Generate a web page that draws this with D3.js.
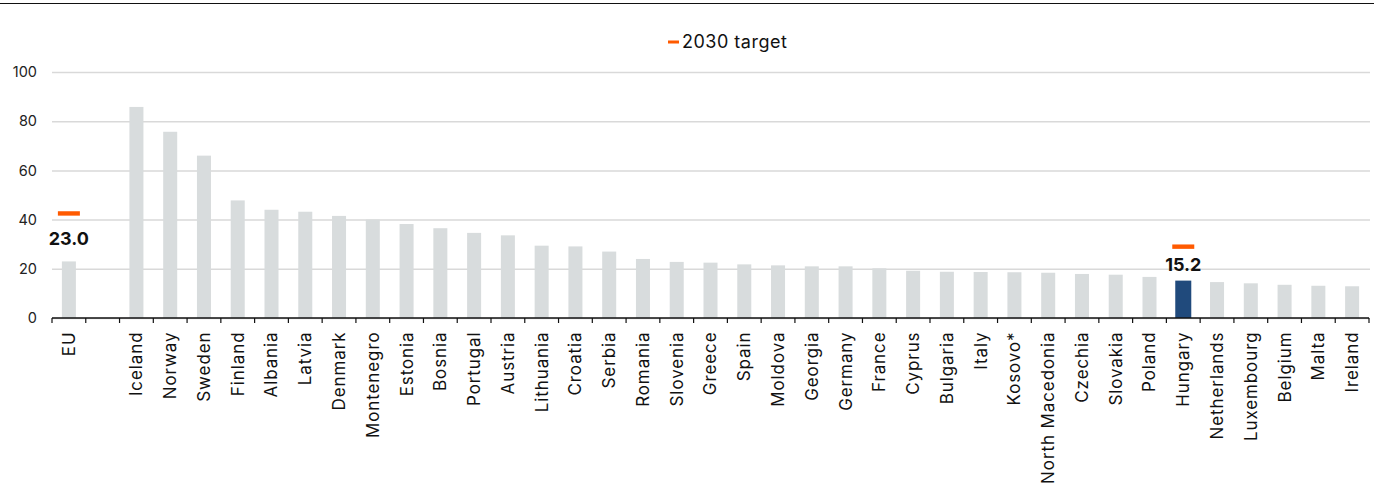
<!DOCTYPE html>
<html>
<head>
<meta charset="utf-8">
<script src="https://cdn.jsdelivr.net/npm/d3@7"></script>
<style>
  body { margin: 0; background: #fff; }
  svg text { font-family: Inter, "Liberation Sans", sans-serif; }
</style>
</head>
<body>
<svg width="1383" height="484"></svg>
<script>
// data (share of renewables, %)
const countries = ['EU', '', 'Iceland', 'Norway', 'Sweden', 'Finland', 'Albania', 'Latvia', 'Denmark',
  'Montenegro', 'Estonia', 'Bosnia', 'Portugal', 'Austria', 'Lithuania', 'Croatia', 'Serbia', 'Romania',
  'Slovenia', 'Greece', 'Spain', 'Moldova', 'Georgia', 'Germany', 'France', 'Cyprus', 'Bulgaria', 'Italy',
  'Kosovo*', 'North Macedonia', 'Czechia', 'Slovakia', 'Poland', 'Hungary', 'Netherlands', 'Luxembourg',
  'Belgium', 'Malta', 'Ireland'];
const shares = [23.0, null, 85.8, 75.7, 66.0, 47.8, 44.0, 43.2, 41.5,
  40.0, 38.2, 36.5, 34.6, 33.6, 29.4, 29.1, 27.0, 24.0,
  22.8, 22.5, 21.8, 21.4, 21.0, 21.0, 20.2, 19.2, 18.8, 18.7,
  18.6, 18.4, 17.9, 17.6, 16.7, 15.2, 14.6, 14.1,
  13.5, 13.1, 12.9];
const targets = [
  { name: 'EU', value: 42.5 },
  { name: 'Hungary', value: 29 }
];
const yTicks = [0, 20, 40, 60, 80, 100];
const highlight = 'Hungary';

const svg = d3.select('svg');

const data = countries.map((c, i) => ({ name: c, key: c === '' ? '_gap' : c, value: shares[i] }));

const x = d3.scaleBand()
    .domain(data.map(d => d.key))
    .range([52, 1369])
    .paddingInner(0.585)
    .paddingOuter(0.2925);

const y = d3.scaleLinear()
    .domain([0, 100])
    .range([318, 72]);

// top rule
svg.append('line')
    .attr('x1', 0).attr('x2', 1374)
    .attr('y1', 3.5).attr('y2', 3.5)
    .attr('stroke', '#111').attr('stroke-width', 1);

// grid + y labels
const yAxis = svg.append('g')
    .attr('transform', 'translate(52,0)')
    .call(d3.axisLeft(y).tickValues(yTicks).tickSize(-(1370 - 52)).tickPadding(15));
yAxis.select('.domain').remove();
yAxis.selectAll('.tick line').attr('stroke', '#d9d9d9').attr('stroke-width', 1.5);
yAxis.selectAll('.tick text')
    .attr('fill', '#222')
    .style('font-size', '14.5px');

// bars
svg.append('g').selectAll('rect')
    .data(data.filter(d => d.value != null))
    .enter().append('rect')
    .attr('x', d => x(d.key) - (d.name === highlight ? 1 : 0))
    .attr('width', d => x.bandwidth() + (d.name === highlight ? 2 : 0))
    .attr('y', d => y(d.value))
    .attr('height', d => y(0) - y(d.value))
    .attr('fill', d => d.name === highlight ? '#204a7c' : '#d8dcdd');

// x axis baseline + boundary ticks
const gap = x.step() - x.bandwidth();
const bounds = data.map(d => x(d.key) - gap / 2).concat([x(data[data.length - 1].key) + x.bandwidth() + gap / 2]);
const xAxis = svg.append('g');
xAxis.append('line')
    .attr('x1', x.range()[0]).attr('x2', x.range()[1])
    .attr('y1', y(0)).attr('y2', y(0))
    .attr('stroke', '#111').attr('stroke-width', 1.5);
xAxis.selectAll('line.tk')
    .data(bounds)
    .enter().append('line')
    .attr('class', 'tk')
    .attr('x1', d => d).attr('x2', d => d)
    .attr('y1', y(0)).attr('y2', y(0) + 5)
    .attr('stroke', '#111').attr('stroke-width', 1.2);
xAxis.selectAll('text')
    .data(data.filter(d => d.name !== ''))
    .enter().append('text')
    .attr('transform', d => `translate(${x(d.key) + x.bandwidth() / 2},331.5)rotate(-90)`)
    .attr('text-anchor', 'end')
    .attr('dy', '0.35em')
    .attr('fill', '#111')
    .style('font-size', '17px')
    .style('letter-spacing', '0.9px')
    .text(d => d.name);

// 2030 targets
svg.append('g').selectAll('rect')
    .data(targets)
    .enter().append('rect')
    .attr('x', d => x(d.name) + x.bandwidth() / 2 - 11)
    .attr('width', 22)
    .attr('y', d => y(d.value) - 2.2)
    .attr('height', 4.4)
    .attr('fill', '#ff5a00');

// value labels
const labelOffset = { 'EU': 16, 'Hungary': 10 };
svg.append('g').selectAll('text')
    .data(data.filter(d => labelOffset[d.name] != null))
    .enter().append('text')
    .attr('x', d => x(d.key) + x.bandwidth() / 2)
    .attr('y', d => y(d.value) - labelOffset[d.name])
    .attr('text-anchor', 'middle')
    .attr('fill', '#111')
    .style('font-size', '18px')
    .style('font-weight', 700)
    .text(d => d.value.toFixed(1));

// legend
const legend = svg.append('g').attr('transform', 'translate(668,42)');
legend.append('rect')
    .attr('x', 0).attr('y', -1.5)
    .attr('width', 11).attr('height', 3)
    .attr('fill', '#ff5a00');
legend.append('text')
    .attr('x', 14).attr('y', 0)
    .attr('dy', '0.35em')
    .attr('fill', '#111')
    .style('font-size', '18px')
    .style('letter-spacing', '0.5px')
    .text('2030 target');
</script>
</body>
</html>
